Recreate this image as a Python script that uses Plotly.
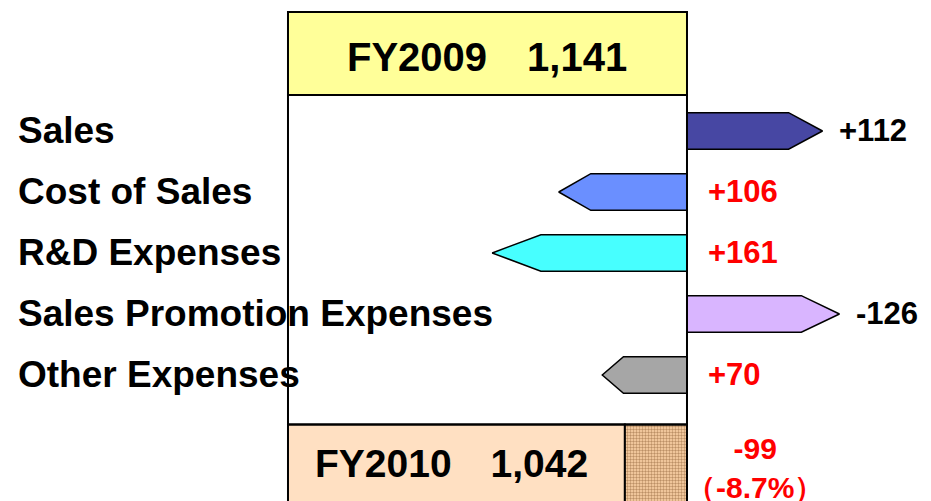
import plotly.graph_objects as go

# data
categories = ["Sales", "Cost of Sales", "R&D Expenses",
              "Sales Promotion Expenses", "Other Expenses"]
profit_effect = [112, -106, -161, 126, -70]        # arrow direction/length
item_change = ["+112", "+106", "+161", "-126", "+70"]  # change of the item itself
fy_labels = ["FY2009", "FY2010"]
fy_values = [1141, 1042]

diff = fy_values[1] - fy_values[0]
diff_pct = diff / fy_values[0] * 100

# styles
arrow_fill = ["#4747A3", "#6A8FFF", "#47FFFF", "#D9B5FF", "#A6A6A6"]
FONT = "Arial, 'Liberation Sans', sans-serif"
box_base = 505          # FY boxes are drawn on a truncated scale
half_h = 0.30           # half arrow height (row units)
top_row, bottom_row = -1.27, 5.49
box_h = 1.36

fig = go.Figure()

# FY2009 box
fig.add_trace(go.Bar(
    y=[top_row], x=[fy_values[0] - box_base], base=[box_base], orientation="h",
    width=box_h, marker=dict(color="#FFFF99", line=dict(color="black", width=2)),
    hoverinfo="skip"))
# FY2010 box
fig.add_trace(go.Bar(
    y=[bottom_row], x=[fy_values[1] - box_base], base=[box_base], orientation="h",
    width=box_h, marker=dict(color="#FFE0C2", line=dict(color="black", width=2)),
    hoverinfo="skip"))
# decrease, hatched
fig.add_trace(go.Bar(
    y=[bottom_row], x=[fy_values[0] - fy_values[1]], base=[fy_values[1]], orientation="h",
    width=box_h,
    marker=dict(color="#E0B080", line=dict(color="black", width=2),
                pattern=dict(shape=".", fgcolor="#7A4A22", bgcolor="#FFD6AA",
                             size=3, solidity=0.5)),
    hoverinfo="skip"))

# arrows
for i, (v, c) in enumerate(zip(profit_effect, arrow_fill)):
    d = 1 if v > 0 else -1
    L = abs(v)
    head = 0.25 * L
    xs = [0, d * (L - head), d * L, d * (L - head), 0, 0]
    ys = [i - half_h, i - half_h, i, i + half_h, i + half_h, i - half_h]
    fig.add_trace(go.Scatter(
        x=xs, y=ys, xaxis="x2", yaxis="y", mode="lines", fill="toself",
        fillcolor=c, line=dict(color="black", width=1.5), hoverinfo="skip"))

# frame between the two boxes
fig.add_shape(type="rect", xref="x", yref="y",
              x0=box_base, x1=fy_values[0],
              y0=top_row + box_h / 2, y1=bottom_row - box_h / 2,
              line=dict(color="black", width=2), fillcolor="rgba(0,0,0,0)")

ann = []
for i, name in enumerate(categories):
    ann.append(dict(xref="paper", yref="y", x=0.0086, y=i, xanchor="left",
                    text="<b>%s</b>" % name, showarrow=False,
                    font=dict(family=FONT, size=37, color="black")))
for i, (v, t) in enumerate(zip(profit_effect, item_change)):
    ann.append(dict(xref="x2", yref="y", x=(v + 12) if v > 0 else 16, y=i,
                    xanchor="left", text="<b>%s</b>" % t, showarrow=False,
                    font=dict(family=FONT, size=31,
                              color="black" if v > 0 else "#FF0000")))

ann.append(dict(xref="x", yref="y", x=(box_base + fy_values[0]) / 2, y=top_row,
                yshift=-3, text="<b>%s\u3000%s</b>" % (fy_labels[0], f"{fy_values[0]:,}"),
                showarrow=False, font=dict(family=FONT, size=40, color="black")))
ann.append(dict(xref="x", yref="y", x=(box_base + fy_values[1]) / 2, y=bottom_row,
                xshift=-5, yshift=2,
                text="<b>%s\u3000%s</b>" % (fy_labels[1], f"{fy_values[1]:,}"),
                showarrow=False, font=dict(family=FONT, size=39, color="black")))
ann.append(dict(xref="x2", yref="y", x=56, y=bottom_row, yshift=-2,
                text="<b>%d<br>\uff08%.1f%%\uff09</b>" % (diff, diff_pct),
                showarrow=False, font=dict(family=FONT, size=30, color="#FF0000")))

fig.update_layout(
    width=931, height=501,
    margin=dict(l=0, r=0, t=0, b=0),
    paper_bgcolor="white", plot_bgcolor="white",
    showlegend=False, barmode="overlay",
    xaxis=dict(range=[58.7, 1542.7], visible=False, fixedrange=True),
    xaxis2=dict(range=[-561.2, 208.3], overlaying="x", visible=False, fixedrange=True),
    yaxis=dict(range=[6.197, -2.016], visible=False, fixedrange=True),
    annotations=ann,
)

fig.write_html("out.html")
